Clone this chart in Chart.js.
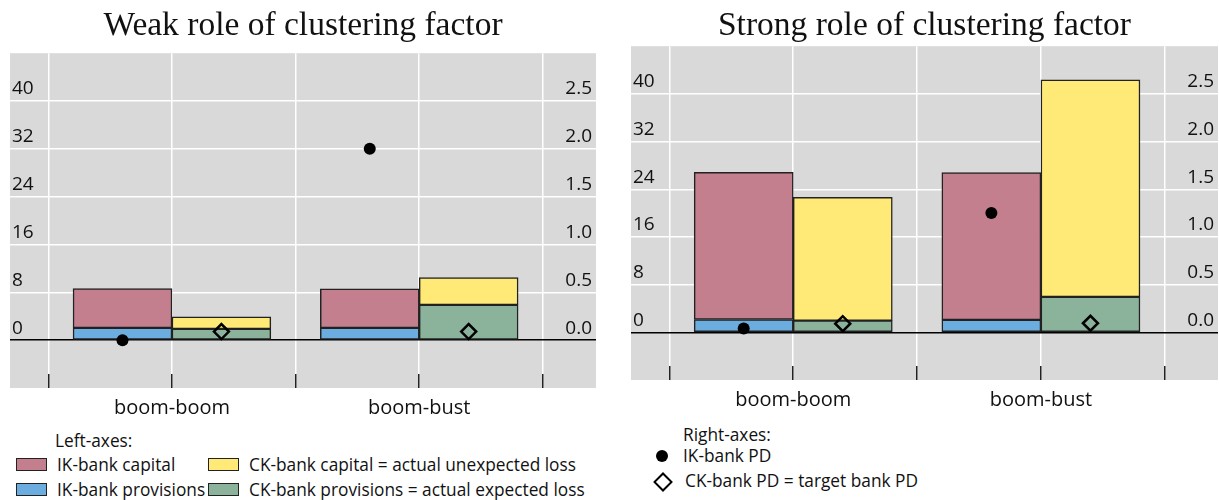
<!DOCTYPE html>
<html>
<head>
<meta charset="utf-8">
<script src="https://cdn.jsdelivr.net/npm/chart.js@4.4.1/dist/chart.umd.min.js"></script>
<style>
  html, body { margin: 0; padding: 0; background: #fff; width: 1219px; height: 500px; overflow: hidden; }
  canvas { position: absolute; top: 0; display: block; }
  #weakChart { left: 0; }
  #strongChart { left: 621px; }
  .legend { position: absolute; font-family: "Open Sans", sans-serif; font-size: 17.3px; color: #111; line-height: 20px; white-space: nowrap; }
  .legend .item { position: absolute; }
  .legend .swatch { position: absolute; width: 29px; height: 11px; border: 1.5px solid #222; }
  .legend .dot { position: absolute; width: 12px; height: 12px; border-radius: 50%; background: #000; }
  .legend .diamond { position: absolute; width: 10px; height: 10px; border: 2.5px solid #000; transform: rotate(45deg); }
</style>
</head>
<body>
<canvas id="weakChart" width="610" height="425"></canvas>
<canvas id="strongChart" width="598" height="420"></canvas>
<div class="legend" id="leftLegend"></div>
<div class="legend" id="rightLegend"></div>

<script>
// Scenario groups along the horizontal axis
const categories = ['boom-boom', 'boom-bust'];

// Left-axis values (stacked bars)
const weakIkProvisions = [2.05, 2.05];
const weakIkCapital    = [6.6, 6.55];
const weakCkProvisions = [1.9, 5.9];
const weakCkCapital    = [2.0, 4.55];
// Right-axis values (markers)
const weakIkPD = [0.0, 2.0];
const weakCkPD = [0.09, 0.09];

const strongIkProvisions = [2.15, 2.1];
const strongIkCapital    = [24.7, 24.7];
const strongCkProvisions = [1.95, 5.95];
const strongCkCapital    = [20.7, 36.4];
const strongIkPD = [0.04, 1.25];
const strongCkPD = [0.09, 0.095];

// Axis tick values
const leftTicks  = [0, 8, 16, 24, 32, 40];
const rightTicks = [0, 0.5, 1.0, 1.5, 2.0, 2.5];

const COLORS = {
  ikCapital: '#c47f8f',
  ikProvisions: '#6badde',
  ckCapital: '#ffe977',
  ckProvisions: '#8bb29b',
  plot: '#d9d9d9',
  edge: '#222222'
};

const LABELS = {
  ikCapital: 'IK-bank capital',
  ikProvisions: 'IK-bank provisions',
  ckCapital: 'CK-bank capital = actual unexpected loss',
  ckProvisions: 'CK-bank provisions = actual expected loss',
  ikPD: 'IK-bank PD',
  ckPD: 'CK-bank PD = target bank PD'
};

const TICK_FONT = { family: '"Open Sans", sans-serif', size: 19 };
const CAT_FONT = { family: '"Open Sans", sans-serif', size: 20 };
const TITLE_FONT = { family: '"Liberation Serif", serif', size: 33.5, weight: 'normal' };

// Each scenario occupies two units on the x scale; IK bar left of centre, CK bar right of it
const HALF_BAR = 0.4;
const groupCentre = i => 2 * i + 1;
const placed = (arr, side) => arr.map((v, i) => ({ x: groupCentre(i) + side * HALF_BAR, y: v }));

const plotBackground = {
  id: 'plotBackground',
  beforeDraw(chart) {
    const { ctx, chartArea: a } = chart;
    ctx.save();
    ctx.fillStyle = COLORS.plot;
    ctx.fillRect(a.left, a.top, a.right - a.left, a.bottom - a.top);
    ctx.restore();
  }
};

function keepTicks(list) {
  return scale => {
    scale.ticks = scale.ticks.filter(t => list.some(v => Math.abs(v - t.value) < 1e-9));
  };
}

function barSet(label, color, data) {
  return {
    type: 'bar', label, data,
    backgroundColor: color, borderColor: COLORS.edge, borderWidth: 1.5,
    borderSkipped: false, yAxisID: 'y', order: 1,
    barPercentage: 1, categoryPercentage: 1
  };
}

function buildPanel(canvasId, title, v, layout) {
  return new Chart(document.getElementById(canvasId), {
    type: 'bar',
    data: {
      datasets: [
        { type: 'line', label: LABELS.ikPD, data: placed(v.ikPD, -1), yAxisID: 'yPD', showLine: false,
          pointStyle: 'circle', pointRadius: 6, pointBackgroundColor: '#000', pointBorderColor: '#000', pointBorderWidth: 0, order: 0 },
        { type: 'line', label: LABELS.ckPD, data: placed(v.ckPD, 1), yAxisID: 'yPD', showLine: false,
          pointStyle: 'rectRot', pointRadius: 7.5, pointBackgroundColor: 'rgba(0,0,0,0)', pointBorderColor: '#000', pointBorderWidth: 2.5, order: 0 },
        barSet(LABELS.ikProvisions, COLORS.ikProvisions, placed(v.ikProvisions, -1)),
        barSet(LABELS.ikCapital, COLORS.ikCapital, placed(v.ikCapital, -1)),
        barSet(LABELS.ckProvisions, COLORS.ckProvisions, placed(v.ckProvisions, 1)),
        barSet(LABELS.ckCapital, COLORS.ckCapital, placed(v.ckCapital, 1))
      ]
    },
    options: {
      responsive: false,
      animation: false,
      devicePixelRatio: 1,
      events: [],
      layout: { padding: layout.padding, autoPadding: false },
      plugins: {
        legend: { display: false },
        tooltip: { enabled: false },
        title: {
          display: true, text: title, color: '#111', font: TITLE_FONT,
          padding: layout.titlePadding
        }
      },
      scales: {
        x: {
          type: 'linear', min: -0.31, max: 4.43, stacked: true, z: -1, offset: false,
          afterBuildTicks: scale => { scale.ticks = scale.ticks.filter(t => Number.isInteger(t.value)); },
          afterFit: scale => {
            scale.height = layout.xAxisHeight;
            scale.paddingLeft = 0;
            scale.paddingRight = 0;
          },
          ticks: {
            stepSize: 1, includeBounds: false, padding: 22, autoSkip: false, maxRotation: 0, color: '#111', font: CAT_FONT,
            callback: value => (value % 2 === 1 ? categories[(value - 1) / 2] : '')
          },
          grid: { offset: false, color: '#ffffff', lineWidth: 1.5, tickLength: -14, tickColor: '#222', tickWidth: 1.5 },
          border: { display: false }
        },
        y: {
          type: 'linear', position: 'left', min: -8, max: 48, stacked: true,
          afterBuildTicks: keepTicks(leftTicks),
          afterFit: scale => { scale.width = 0; },
          ticks: { stepSize: 8, mirror: true, padding: 2, labelOffset: -12, color: '#111', font: TICK_FONT },
          grid: {
            color: ctx => (ctx.tick && ctx.tick.value === 0 ? '#000000' : '#ffffff'),
            lineWidth: 1.5, drawTicks: false
          },
          border: { display: false }
        },
        yPD: {
          type: 'linear', position: 'right', min: -0.5, max: 3.0,
          afterBuildTicks: keepTicks(rightTicks),
          afterFit: scale => { scale.width = 0; },
          ticks: { stepSize: 0.5, mirror: true, padding: -4, labelOffset: -12, color: '#111', font: TICK_FONT,
                   callback: value => value.toFixed(1) },
          grid: { display: false },
          border: { display: false }
        }
      }
    },
    plugins: [plotBackground]
  });
}

buildPanel('weakChart', 'Weak role of clustering factor', {
  ikProvisions: weakIkProvisions, ikCapital: weakIkCapital,
  ckProvisions: weakCkProvisions, ckCapital: weakCkCapital,
  ikPD: weakIkPD, ckPD: weakCkPD
}, { padding: { left: 10, right: 14, top: 0, bottom: 0 }, titlePadding: { top: 6, bottom: 7 }, xAxisHeight: 37 });

buildPanel('strongChart', 'Strong role of clustering factor', {
  ikProvisions: strongIkProvisions, ikCapital: strongIkCapital,
  ckProvisions: strongCkProvisions, ckCapital: strongCkCapital,
  ikPD: strongIkPD, ckPD: strongCkPD
}, { padding: { left: 10, right: 1, top: 0, bottom: 0 }, titlePadding: { top: 6, bottom: 0 }, xAxisHeight: 40 });

// Legends below the panels
function addText(box, text, left, centreY) {
  const el = document.createElement('div');
  el.className = 'item';
  el.textContent = text;
  el.style.left = left + 'px';
  el.style.top = (centreY - 10) + 'px';
  box.appendChild(el);
}
function addMark(box, cls, left, top, color) {
  const el = document.createElement('div');
  el.className = cls;
  el.style.left = left + 'px';
  el.style.top = top + 'px';
  if (color) el.style.background = color;
  box.appendChild(el);
}

const leftLegend = document.getElementById('leftLegend');
addText(leftLegend, 'Left-axes:', 55, 441);
[[LABELS.ikCapital, COLORS.ikCapital, 16, 465], [LABELS.ckCapital, COLORS.ckCapital, 208, 465],
 [LABELS.ikProvisions, COLORS.ikProvisions, 16, 490], [LABELS.ckProvisions, COLORS.ckProvisions, 208, 490]]
  .forEach(([text, color, x, cy]) => {
    addMark(leftLegend, 'swatch', x, cy - 7, color);
    addText(leftLegend, text, x + 41, cy);
  });

const rightLegend = document.getElementById('rightLegend');
addText(rightLegend, 'Right-axes:', 683, 435);
addMark(rightLegend, 'dot', 656, 450);
addText(rightLegend, LABELS.ikPD, 683, 456);
addMark(rightLegend, 'diamond', 655.5, 474.5);
addText(rightLegend, LABELS.ckPD, 685, 481);
</script>
</body>
</html>
